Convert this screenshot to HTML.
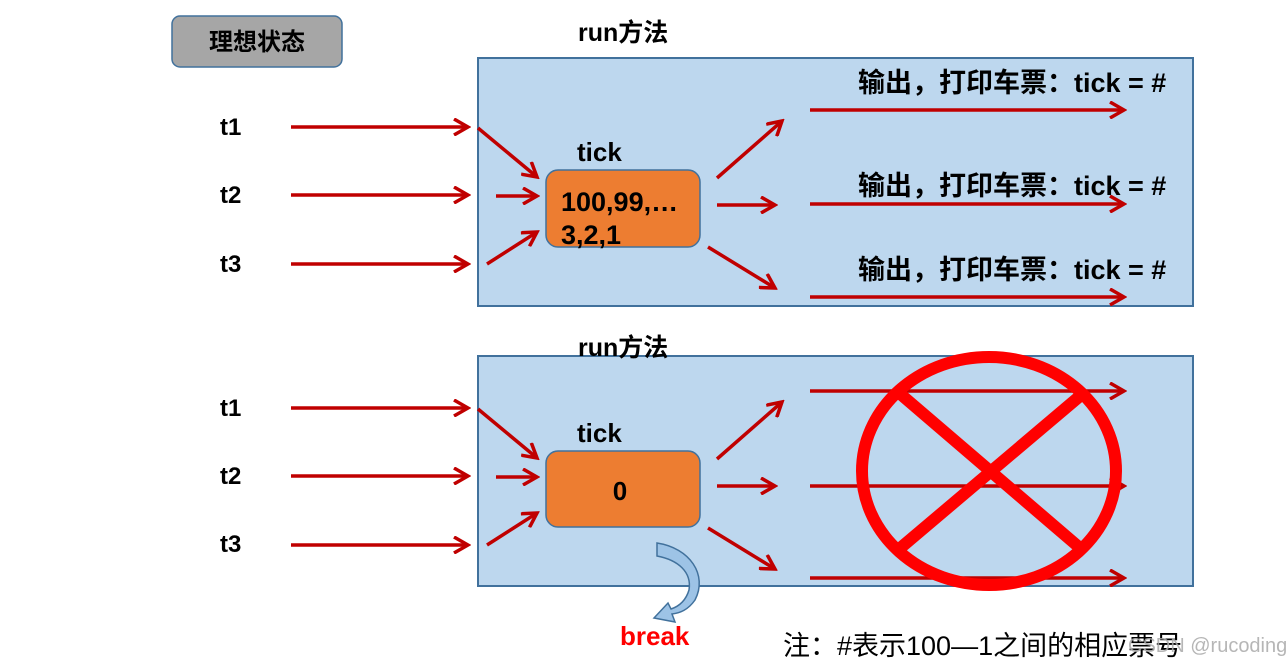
<!DOCTYPE html>
<html><head><meta charset="utf-8"><style>
html,body{margin:0;padding:0;background:#fff;}
svg text{font-family:"Liberation Sans","Noto Sans CJK SC",sans-serif;}
</style></head><body>
<svg width="1288" height="665" viewBox="0 0 1288 665" xmlns="http://www.w3.org/2000/svg">
<defs>
<marker id="b" markerWidth="18" markerHeight="18" refX="15" refY="9" orient="auto" markerUnits="userSpaceOnUse" viewBox="0 0 18 18">
<path d="M1,1 L15,9 L1,17" fill="none" stroke="#c00000" stroke-width="3.5"/>
</marker>
</defs>
<rect x="172" y="16" width="170" height="51" rx="8" fill="#a6a6a6" stroke="#41719c" stroke-width="1.5"/>
<text x="257" y="50" font-size="24" font-weight="bold" text-anchor="middle">理想状态</text>

<text x="578" y="41" font-size="25" font-weight="bold">run方法</text>
<rect x="478" y="58" width="715" height="248" fill="#bdd7ee" stroke="#41719c" stroke-width="2"/>
<rect x="478" y="356" width="715" height="230" fill="#bdd7ee" stroke="#41719c" stroke-width="2"/>
<text x="578" y="356" font-size="25" font-weight="bold">run方法</text>

<g font-size="24" font-weight="bold">
<text x="220" y="135">t1</text><text x="220" y="203">t2</text><text x="220" y="272">t3</text>
<text x="220" y="416">t1</text><text x="220" y="484">t2</text><text x="220" y="552">t3</text>
</g>
<g font-size="26" font-weight="bold">
<text x="577" y="161">tick</text><text x="577" y="442">tick</text>
</g>

<g stroke="#c00000" stroke-width="3.5" fill="none" marker-end="url(#b)">
<line x1="291" y1="127" x2="468" y2="127"/>
<line x1="291" y1="195" x2="468" y2="195"/>
<line x1="291" y1="264" x2="468" y2="264"/>
<line x1="478" y1="128" x2="537" y2="177"/>
<line x1="496" y1="196" x2="537" y2="196"/>
<line x1="487" y1="264" x2="537" y2="232"/>
<line x1="717" y1="178" x2="782" y2="121"/>
<line x1="717" y1="205" x2="775" y2="205"/>
<line x1="708" y1="247" x2="775" y2="288"/>
<line x1="291" y1="408" x2="468" y2="408"/>
<line x1="291" y1="476" x2="468" y2="476"/>
<line x1="291" y1="545" x2="468" y2="545"/>
<line x1="478" y1="409" x2="537" y2="458"/>
<line x1="496" y1="477" x2="537" y2="477"/>
<line x1="487" y1="545" x2="537" y2="513"/>
<line x1="717" y1="459" x2="782" y2="402"/>
<line x1="717" y1="486" x2="775" y2="486"/>
<line x1="708" y1="528" x2="775" y2="569"/>
<line x1="810" y1="110" x2="1124" y2="110"/>
<line x1="810" y1="204" x2="1124" y2="204"/>
<line x1="810" y1="297" x2="1124" y2="297"/>
<line x1="810" y1="391" x2="1124" y2="391"/>
<line x1="810" y1="486" x2="1124" y2="486"/>
<line x1="810" y1="578" x2="1124" y2="578"/>
</g>

<rect x="546" y="170" width="154" height="77" rx="12" fill="#ed7d31" stroke="#41719c" stroke-width="1.5"/>
<text x="561" y="211" font-size="27" font-weight="bold">100,99,…</text>
<text x="561" y="244" font-size="27" font-weight="bold">3,2,1</text>
<rect x="546" y="451" width="154" height="76" rx="12" fill="#ed7d31" stroke="#41719c" stroke-width="1.5"/>
<text x="620" y="500" font-size="26" font-weight="bold" text-anchor="middle">0</text>

<g font-size="27" font-weight="bold">
<text x="858" y="92">输出，打印车票：tick = #</text>
<text x="858" y="195">输出，打印车票：tick = #</text>
<text x="858" y="279">输出，打印车票：tick = #</text>
</g>

<ellipse cx="989" cy="471" rx="127" ry="114" fill="none" stroke="#ff0000" stroke-width="12"/>
<line x1="898" y1="392" x2="1080" y2="548" stroke="#ff0000" stroke-width="12"/>
<line x1="1080" y1="396" x2="898" y2="550" stroke="#ff0000" stroke-width="12"/>

<path d="M657,543 C690,548 708,575 695,600 C688,610 680,613 672,614 L675,622 L654,618 L668,603 L671,609 C680,606 686,600 689,590 C692,572 678,560 657,556 Z" fill="#9dc3e6" stroke="#41719c" stroke-width="1.5"/>
<text x="620" y="645" font-size="26" font-weight="bold" fill="#ff0000">break</text>

<text x="783" y="655" font-size="27">注：#表示100—1之间的相应票号</text>
<text x="1128" y="652" font-size="20" fill="#aaa" opacity="0.85">CSDN @rucoding</text>
</svg>
</body></html>
